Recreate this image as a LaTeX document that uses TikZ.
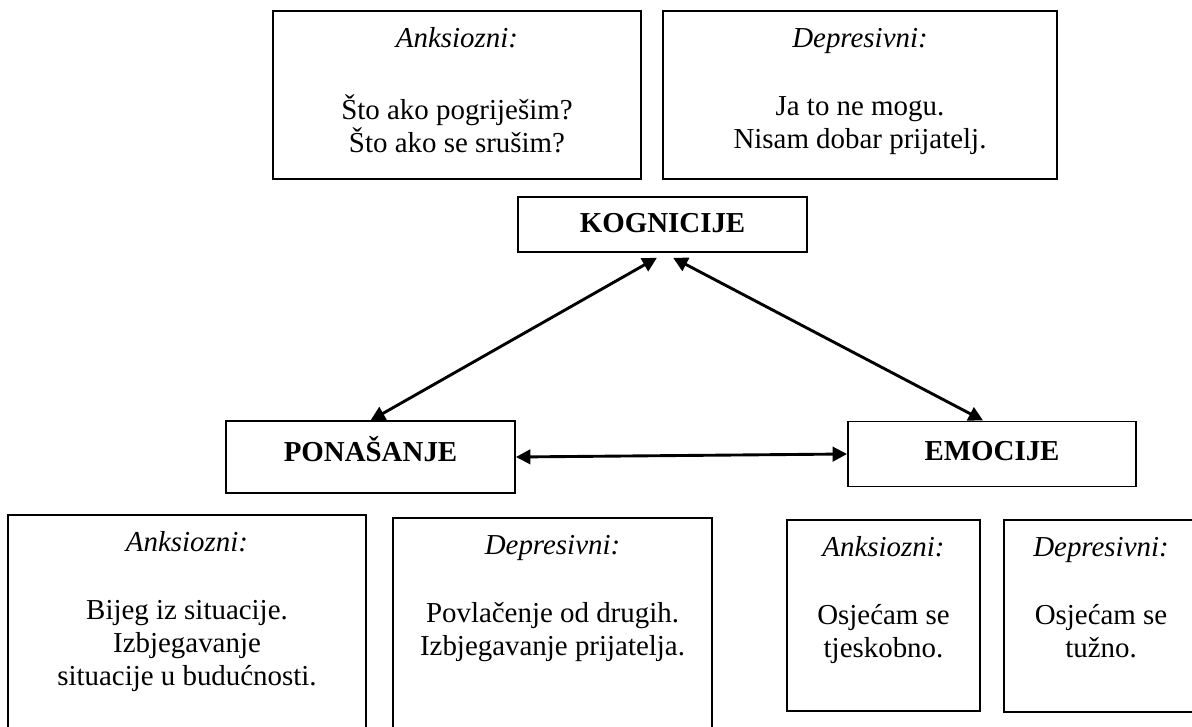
\documentclass[tikz,border=0pt]{standalone}
\usepackage{fontspec}
\setmainfont{Liberation Serif}
\usetikzlibrary{arrows.meta,positioning}

\begin{document}
\begin{tikzpicture}[x=0.415pt, y=-0.415pt,
  box/.style={draw, line width=0.8pt, inner sep=0pt},
  boxtext/.style={align=center, inner sep=0pt, font=\fontsize{12}{13.7}\selectfont},
  head/.style={draw, line width=0.8pt, font=\fontsize{12}{13.7}\selectfont\bfseries, text height=8.5pt, text depth=1.5pt},
  link/.style={{Triangle[length=6pt,width=6pt]}-{Triangle[length=6pt,width=6pt]}, line width=1.2pt}]
  \useasboundingbox (0,0) rectangle (1192,727);

  % Kognicije examples
  \node[box, minimum width=152.7pt, minimum height=69.7pt] (cogAnx) at (457,95) {};
  \node[boxtext, below=5.8pt of cogAnx.north] (cogAnxTxt) {\strut\textit{Anksiozni:}\\[14.5pt]Što ako pogriješim?\\Što ako se srušim?};
  \node[box, minimum width=163.5pt, minimum height=69.7pt] (cogDep) at (860,95) {};
  \node[boxtext, below=5.8pt of cogDep.north] (cogDepTxt) {\strut\textit{Depresivni:}\\[14.5pt]Ja to ne mogu.\\Nisam dobar prijatelj.};

  % Triangle
  \node[head, minimum width=119.9pt, minimum height=22.8pt] (kog) at (662.5,224.5) {KOGNICIJE};
  \node[head, minimum width=119.9pt, minimum height=29.5pt, text height=6pt, text depth=2.5pt] (pon) at (370.5,457) {PONAŠANJE};
  \node[head, minimum width=119.5pt, minimum height=27pt, text height=7pt, text depth=1.5pt] (emo) at (992,454) {EMOCIJE};

  \draw[link] (pon.north) -- ([shift={(-2.3pt,-2pt)}]kog.south);
  \draw[link] ([xshift=-3.7pt]emo.north) -- ([shift={(4.4pt,-2pt)}]kog.south);
  \draw[link] (pon.east) -- (emo.west);

  % Ponasanje examples
  \node[box, minimum width=148.6pt, minimum height=95.5pt] (ponAnx) at (187,630) {};
  \node[boxtext, below=5.8pt of ponAnx.north] (ponAnxTxt) {\strut\textit{Anksiozni:}\\[14.5pt]Bijeg iz situacije.\\Izbjegavanje\\situacije u budućnosti.};
  \node[box, minimum width=132.4pt, minimum height=94.2pt] (ponDep) at (552.5,631.5) {};
  \node[boxtext, below=5.8pt of ponDep.north] (ponDepTxt) {\strut\textit{Depresivni:}\\[14.5pt]Povlačenje od drugih.\\Izbjegavanje prijatelja.};

  % Emocije examples
  \node[box, minimum width=80.1pt, minimum height=79.3pt] (emoAnx) at (883.5,615.5) {};
  \node[boxtext, below=5.8pt of emoAnx.north] (emoAnxTxt) {\strut\textit{Anksiozni:}\\[14.5pt]Osjećam se\\tjeskobno.};
  \node[box, minimum width=80.5pt, minimum height=79.7pt] (emoDep) at (1101,616) {};
  \node[boxtext, below=5.8pt of emoDep.north] (emoDepTxt) {\strut\textit{Depresivni:}\\[14.5pt]Osjećam se\\tužno.};
\end{tikzpicture}
\end{document}
